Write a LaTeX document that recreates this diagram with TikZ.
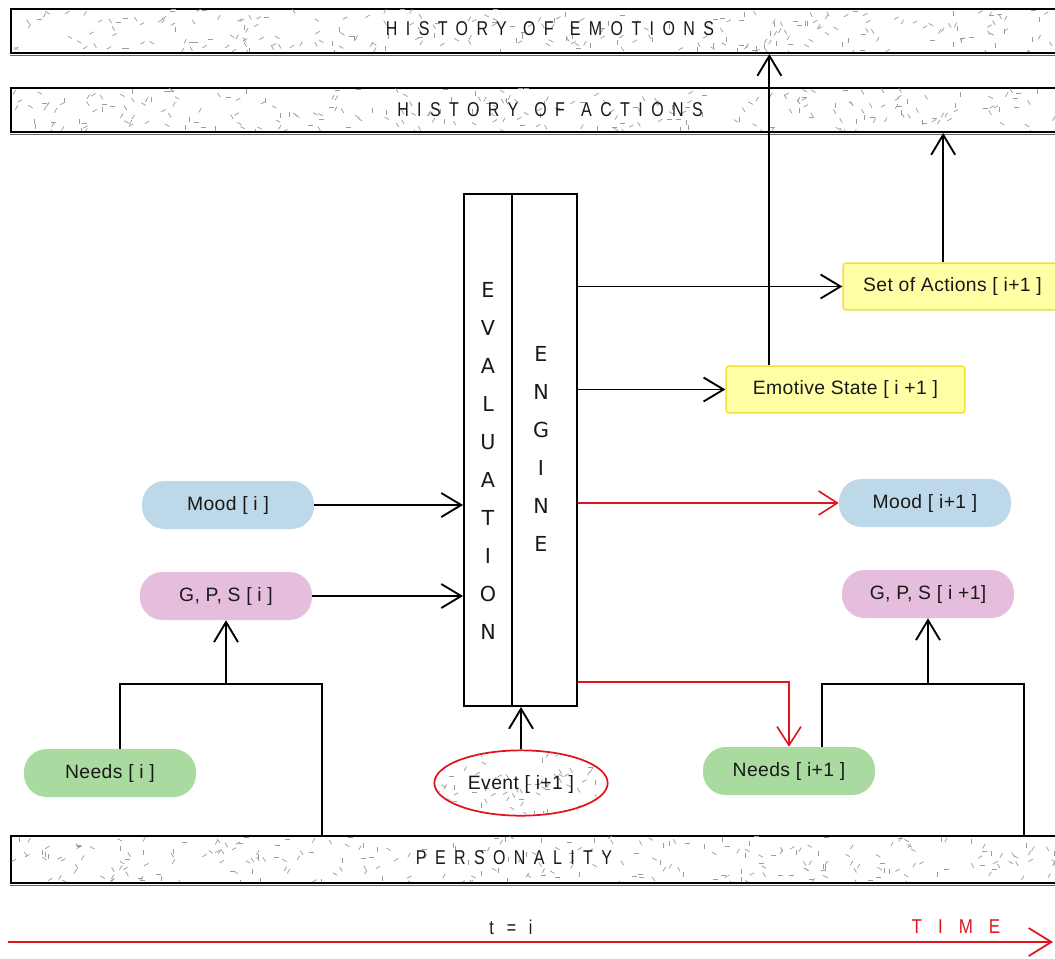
\documentclass[tikz,border=0pt]{standalone}
\usepackage{fontspec}
\setmainfont{Liberation Sans}
\newfontfamily\hdr[LetterSpace=42,FakeStretch=0.8]{Liberation Sans}
\newfontfamily\timefont[LetterSpace=80,FakeStretch=0.85]{Liberation Sans}
\newfontfamily\pillfont[LetterSpace=2]{Liberation Sans}
\newfontfamily\vfont{DejaVu Sans}
\usetikzlibrary{arrows.meta,shapes.geometric,calc}
\definecolor{moodblue}{HTML}{BDD8E8}
\definecolor{gpspink}{HTML}{E6BEDD}
\definecolor{needgreen}{HTML}{A9DBA0}
\definecolor{yfill}{HTML}{FFFFA6}
\definecolor{yline}{HTML}{F0E040}
\definecolor{tred}{HTML}{E0141E}
\definecolor{texgray}{HTML}{9C9C9C}
\newcommand\wgap{\hspace{2.5pt}}
\newcommand\stipple[5]{%
 \begin{scope}
 \clip (#1,#2) rectangle (#3,#4);
 \foreach \k in {1,...,#5}{%
   \pgfmathsetmacro\sx{#1+rnd*(#3-#1)}%
   \pgfmathsetmacro\sy{#2+rnd*(#4-#2)}%
   \pgfmathsetmacro\sa{int(rnd*6)*30}%
   \draw[tex] (\sx,\sy) -- ++(\sa:5);
 }
 \end{scope}}
\begin{document}
\begin{tikzpicture}[x=0.75pt,y=-0.75pt,
  bar/.style={draw, line width=1.5pt, fill=white, inner sep=0pt, minimum width=791pt, minimum height=33pt, anchor=north west},
  tex/.style={texgray, line width=0.55pt},
  hdrtext/.style={font=\hdr\fontsize{15}{17}\selectfont, inner sep=0pt, text=black!90},
  pill/.style={rounded corners=17pt, inner sep=0pt, minimum width=129pt, minimum height=36pt, font=\pillfont\fontsize{14.5}{16}\selectfont, text=black!90},
  ybox/.style={rounded corners=2pt, draw=yline, line width=1.2pt, fill=yfill, inner sep=0pt, minimum height=35pt, font=\pillfont\fontsize{14.5}{16}\selectfont, text=black!90},
  colbox/.style={draw, line width=1.4pt, fill=white, minimum height=384pt, inner sep=0pt},
  ln/.style={line width=1.4pt},
  arr/.style={line width=1.4pt, -{Straight Barb[length=15pt,width=18pt,line width=1.4pt]}},
  rarr/.style={line width=1.2pt, tred, -{Straight Barb[length=14pt,width=18pt,line width=1.2pt]}},
  vtext/.style={font=\vfont\fontsize{15.5}{28.5}\selectfont, align=center, inner sep=0pt, text=black!90}
]
\useasboundingbox (0,0) rectangle (1055,958);
\fill[white] (0,0) rectangle (1055,958);
\pgfmathsetseed{4711}

% --- bars ---
\node[bar] (hemo) at (10,8) {};
\stipple{11}{9}{1065}{51}{260}
\draw[black!60, line width=0.9pt] ([yshift=-1.4pt]hemo.south west) -- ([yshift=-1.4pt]hemo.south east);
\node[hdrtext] (hemot) at (550,29) {HISTORY\wgap{} OF\wgap{} EMOTIONS};

\node[bar] (hact) at (10,87) {};
\stipple{11}{88}{1065}{130}{260}
\draw[black!60, line width=0.9pt] ([yshift=-1.4pt]hact.south west) -- ([yshift=-1.4pt]hact.south east);
\node[hdrtext] (hactt) at (550,110) {HISTORY\wgap{} OF\wgap{} ACTIONS};

\node[bar, minimum height=35pt] (pers) at (10,835) {};
\stipple{11}{836}{1065}{881}{270}
\draw[black!60, line width=0.9pt] ([yshift=-1.4pt]pers.south west) -- ([yshift=-1.4pt]pers.south east);
\node[hdrtext] (perst) at (514,858) {PERSONALITY};

% --- evaluation engine ---
\node[colbox, minimum width=36pt] (eval) at (488,450) {};
\node[colbox, minimum width=49pt] (engine) at (544.5,450) {};
\node[vtext] (evalt) at (488,461) {E\\V\\A\\L\\U\\A\\T\\I\\O\\N};
\node[vtext] (engt) at (541,449) {E\\N\\G\\I\\N\\E};

% --- yellow boxes ---
\node[ybox, minimum width=164pt] (actions) at (952.5,286.5) {Set of Actions [ i+1 ]};
\node[ybox, minimum width=179pt] (emotive) at (845.5,389.5) {Emotive State [ i +1 ]};

% --- pills ---
\node[pill, fill=moodblue] (moodi) at (228,505) {Mood [ i ]};
\node[pill, fill=gpspink] (gpsi) at (226,596) {G, P, S [ i ]};
\node[pill, fill=needgreen] (needsi) at (110,773) {Needs [ i ]};
\node[pill, fill=moodblue] (moodn) at (925,503) {Mood [ i+1 ]};
\node[pill, fill=gpspink] (gpsn) at (928,594) {G, P, S [ i +1]};
\node[pill, fill=needgreen] (needsn) at (789,771) {Needs [ i+1 ]};

% --- event ---
\node[ellipse, draw=tred, line width=1.3pt, fill=white, minimum width=130pt, minimum height=49pt, inner sep=0pt] (event) at (521,783) {};
\begin{scope}
\clip (521,783) ellipse [x radius=85, y radius=31];
\foreach \k in {1,...,70}{%
  \pgfmathsetmacro\sx{434+rnd*174}%
  \pgfmathsetmacro\sy{750+rnd*66}%
  \pgfmathsetmacro\sa{int(rnd*6)*30}%
  \draw[tex] (\sx,\sy) -- ++(\sa:5);
}
\end{scope}
\node[font=\pillfont\fontsize{14.5}{16}\selectfont, text=black!90, inner sep=0pt] (eventt) at (521,784) {Event [ i+1 ]};

% --- connectors into engine ---
\draw[arr] (moodi.east) -- (moodi.east -| eval.west);
\draw[arr] (gpsi.east) -- (gpsi.east -| eval.west);
\draw[arr] (event.north) -- (event.north |- engine.south);

% --- outputs ---
\draw[arr] (engine.east |- actions.west) -- (actions.west);
\draw[arr] (engine.east |- emotive.west) -- (emotive.west);
\draw[rarr] (engine.east |- moodn.west) -- (moodn.west);
\coordinate (rs) at ([yshift=18.75pt]engine.south east);
\draw[rarr] (rs) -| (needsn.north);

% --- up to histories ---
\coordinate (emoUp) at ([xshift=33pt]emotive.north west);
\draw[arr] (emoUp) -- (emoUp |- hemo.south);
\coordinate (actUp) at ([xshift=-7pt]actions.north);
\draw[arr] (actUp) -- (actUp |- hact.south);

% --- left tree ---
\coordinate (nL) at ([xshift=7.5pt]needsi.north);
\coordinate (tl) at (322,684);
\draw[ln] (nL) |- (tl) -- (tl |- pers.north);
\draw[arr] (gpsi.south |- tl) -- (gpsi.south);

% --- right tree ---
\coordinate (nR) at ([xshift=24.75pt]needsn.north);
\coordinate (tr) at (1024,684);
\draw[ln] (nR) |- (tr) -- (tr |- pers.north);
\draw[arr] (gpsn.south |- tr) -- (gpsn.south);

% --- time axis ---
\coordinate (ts) at (8,942);
\coordinate (te) at (1053,942);
\draw[line width=1.3pt, tred, -{Straight Barb[length=17pt,width=21pt,line width=1.3pt]}] (ts) -- (te);
\node[hdrtext] (tlabel) at (511,927) {t = i};
\node[font=\timefont\fontsize{15}{17}\selectfont, inner sep=0pt, text=tred] (timel) at (956,927) {TIME};
\end{tikzpicture}
\end{document}
